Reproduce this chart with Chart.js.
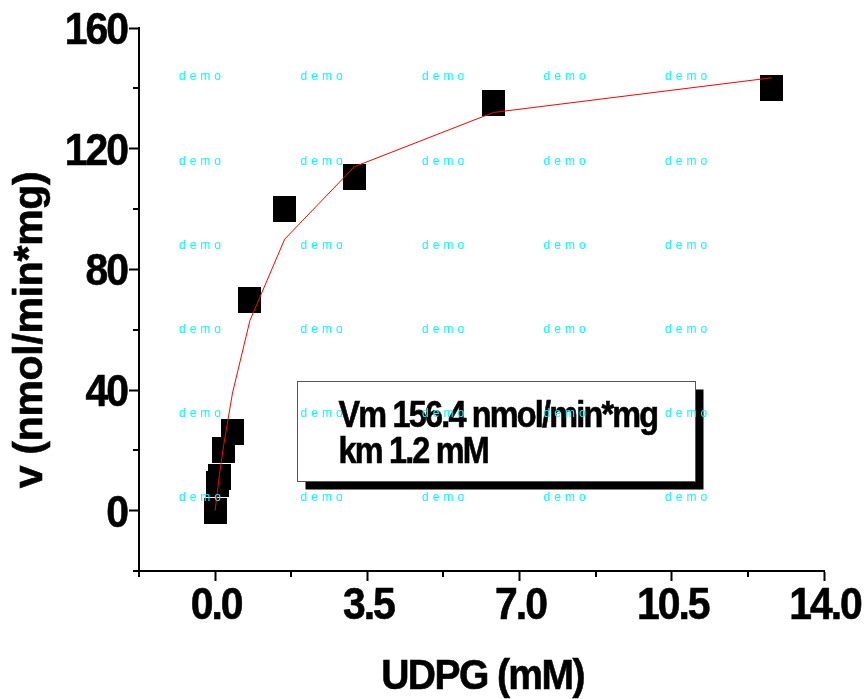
<!DOCTYPE html>
<html>
<head>
<meta charset="utf-8">
<script src="https://cdn.jsdelivr.net/npm/chart.js@4.4.1/dist/chart.umd.min.js"></script>
<style>
  html, body { margin: 0; padding: 0; background: #fff; }
  #wrap { width: 867px; height: 699px; }
</style>
</head>
<body>
<div id="wrap"><canvas id="kineticsChart"></canvas></div>
<script>
// UDPG concentration (mM) and measured / fitted velocity (nmol/min*mg)
const concUDPG = [0, 0.05, 0.1, 0.2, 0.4, 0.8, 1.6, 3.2, 6.4, 12.8];
const rateObserved = [0, 9, 11, 20, 26, 70, 100, 110.5, 135, 140];
const rateFitted = [0, 6, 12, 22, 39, 63, 90, 114, 132, 143.5];

const xMajorTicks = [0, 3.5, 7, 10.5, 14];
const xMinorTicks = [-1.75, 1.75, 5.25, 8.75, 12.25];
const yMajorTicks = [0, 40, 80, 120, 160];
const yMinorTicks = [-20, 20, 60, 100, 140];

const xTitle = 'UDPG (mM)';
const yTitle = 'v (nmol/min*mg)';
const fitNote = ['Vm 156.4 nmol/min*mg', 'km 1.2 mM'];
const watermark = 'demo';

const FONT = "'Liberation Sans', Arial, sans-serif";

function makeSquare(w, h) {
  let c = document.createElement('canvas');
  c.width = w;
  c.height = h;
  let g = c.getContext('2d');
  g.fillStyle = '#000';
  g.fillRect(0, 0, w, h);
  return c;
}

// origin-style text is squeezed and tight, so draw it scaled with negative spacing
function drawText(ctx, text, x, y, font, sx, spacing, align, rotate) {
  ctx.save();
  ctx.font = font;
  ctx.fillStyle = '#000';
  ctx.strokeStyle = '#000';
  ctx.lineWidth = 0.6;
  ctx.textAlign = align;
  ctx.textBaseline = 'alphabetic';
  ctx.letterSpacing = (spacing / sx) + 'px';
  ctx.translate(x, y);
  if (rotate) ctx.rotate(-Math.PI / 2);
  ctx.scale(sx, 1);
  ctx.fillText(text, 0, 0);
  ctx.strokeText(text, 0, 0);
  ctx.restore();
}

const axisText = {
  id: 'axisText',
  afterDraw(chart) {
    let ctx = chart.ctx;
    let xs = chart.scales.x, ys = chart.scales.y;
    let area = chart.chartArea;

    // minor ticks
    ctx.save();
    ctx.strokeStyle = '#000';
    ctx.lineWidth = 2;
    ctx.beginPath();
    xMinorTicks.forEach(v => {
      let px = Math.round(xs.getPixelForValue(v));
      ctx.moveTo(px, area.bottom);
      ctx.lineTo(px, area.bottom + 6);
    });
    yMinorTicks.forEach(v => {
      let py = Math.round(ys.getPixelForValue(v));
      ctx.moveTo(area.left, py);
      ctx.lineTo(area.left - 6, py);
    });
    ctx.stroke();
    ctx.restore();

    // tick labels
    let tickFont = 'bold 44px ' + FONT;
    xMajorTicks.forEach(v => {
      drawText(ctx, v.toFixed(1), xs.getPixelForValue(v) + 1, area.bottom + 48, tickFont, 0.93, -2, 'center');
    });
    yMajorTicks.forEach(v => {
      drawText(ctx, String(v), area.left - 12, ys.getPixelForValue(v) + 16, tickFont, 0.93, -2, 'right');
    });

    // axis titles
    drawText(ctx, xTitle, (area.left + area.right) / 2 + 1, 689, 'bold 42px ' + FONT, 0.93, -1.6, 'center');
    drawText(ctx, yTitle, 42, area.top + 0.556 * (area.bottom - area.top), 'bold 41px ' + FONT, 1, -0.3, 'center', true);
  }
};

const overlay = {
  id: 'overlay',
  afterDraw(chart) {
    let ctx = chart.ctx;
    let a = chart.chartArea;
    let w = a.right - a.left, h = a.bottom - a.top;

    // fit result box with drop shadow
    let bx = Math.round(a.left + 0.2307 * w) + 0.5;
    let by = Math.round(a.top + 0.651 * h) + 0.5;
    let bw = Math.round(0.581 * w), bh = Math.round(0.1833 * h);
    ctx.save();
    ctx.fillStyle = '#000';
    ctx.fillRect(bx + 8, by + 8, bw, bh);
    ctx.fillStyle = '#fff';
    ctx.fillRect(bx, by, bw, bh);
    ctx.strokeStyle = '#555';
    ctx.lineWidth = 1;
    ctx.strokeRect(bx, by, bw, bh);
    ctx.restore();
    drawText(ctx, fitNote[0], bx + 41, by + 45, 'bold 36px ' + FONT, 0.9, -1.8, 'left');
    drawText(ctx, fitNote[1], bx + 41, by + 81, 'bold 36px ' + FONT, 0.9, -1.8, 'left');

    // demo watermark grid
    ctx.save();
    ctx.fillStyle = '#00ffff';
    ctx.font = '12px ' + FONT;
    ctx.letterSpacing = '4px';
    ctx.textAlign = 'center';
    ctx.textBaseline = 'middle';
    for (let j = 0; j < 6; j++) {
      for (let k = 0; k < 5; k++) {
        let tx = a.left + (0.0891 + k * 0.1774) * w + 2;
        let ty = a.top + (0.0902 + j * 0.1551) * h;
        ctx.fillText(watermark, tx, ty);
      }
    }
    ctx.restore();
  }
};

let ctx = document.getElementById('kineticsChart').getContext('2d');
let kineticsChart = new Chart(ctx, {
  type: 'scatter',
  data: {
    datasets: [
      {
        type: 'line',
        label: 'fit',
        data: concUDPG.map((x, i) => ({ x: x, y: rateFitted[i] })),
        borderColor: '#ff0000',
        borderWidth: 1,
        pointRadius: 0,
        tension: 0,
        fill: false,
        order: 0
      },
      {
        label: 'v',
        data: concUDPG.map((x, i) => ({ x: x, y: rateObserved[i] })),
        pointStyle: makeSquare(23, 26),
        pointRadius: 12,
        backgroundColor: '#000',
        borderColor: '#000',
        order: 1
      }
    ]
  },
  options: {
    responsive: true,
    maintainAspectRatio: false,
    animation: false,
    layout: { padding: { left: 0, right: 43, top: 28, bottom: 0 } },
    plugins: {
      legend: { display: false },
      tooltip: { enabled: false }
    },
    scales: {
      x: {
        type: 'linear',
        min: -1.75,
        max: 14,
        afterBuildTicks: (scale) => { scale.ticks = xMajorTicks.map(v => ({ value: v })); },
        afterFit: (scale) => { scale.height = 128; },
        ticks: { display: false },
        grid: { drawOnChartArea: false, tickLength: 10, tickWidth: 2, tickColor: '#000' },
        border: { color: '#000', width: 2 }
      },
      y: {
        min: -20,
        max: 160,
        afterBuildTicks: (scale) => { scale.ticks = yMajorTicks.map(v => ({ value: v })); },
        afterFit: (scale) => { scale.width = 139; },
        ticks: { display: false },
        grid: { drawOnChartArea: false, tickLength: 10, tickWidth: 2, tickColor: '#000' },
        border: { color: '#000', width: 2 }
      }
    }
  },
  plugins: [axisText, overlay]
});
</script>
</body>
</html>
